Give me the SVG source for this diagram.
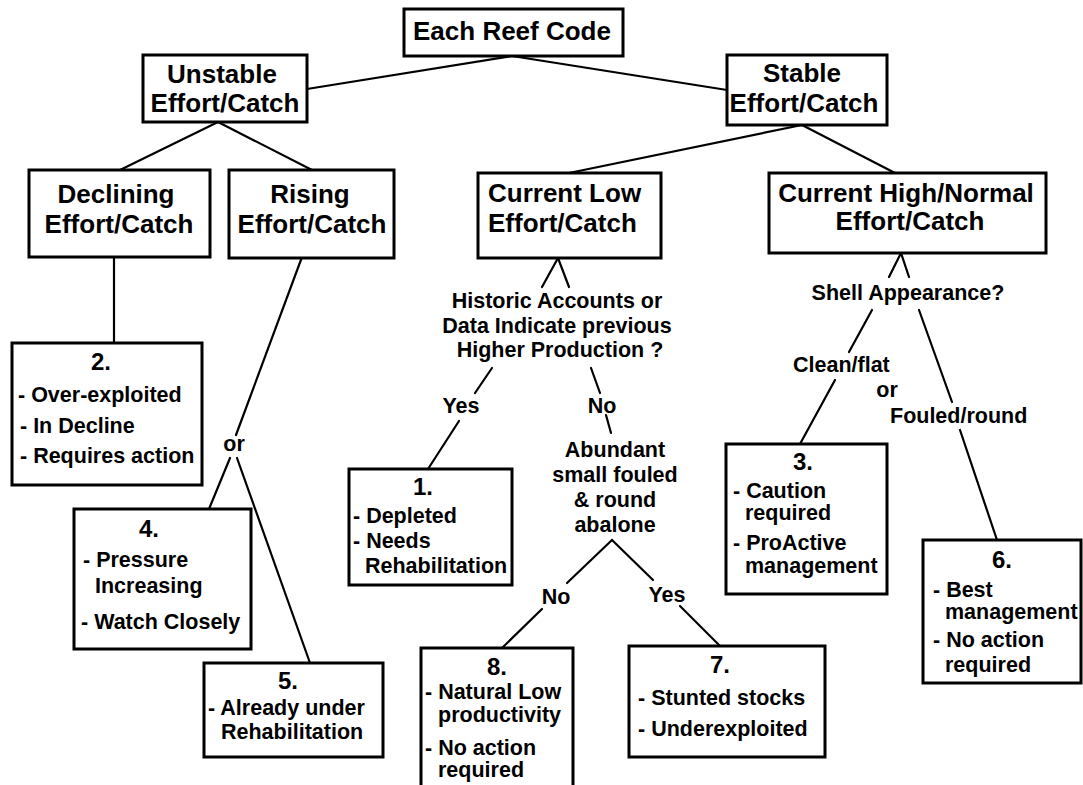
<svg xmlns="http://www.w3.org/2000/svg" width="1083" height="785" viewBox="0 0 1083 785">
<style>
.box{fill:#fff;stroke:#000;stroke-width:3}
.c line{stroke:#000;stroke-width:2.2;stroke-linecap:round}
text{font-family:"Liberation Sans",Arial,sans-serif;fill:#000}
.t{font-weight:bold;font-size:26px;text-anchor:middle}
.tl{font-weight:bold;font-size:26px}
.n{font-weight:bold;font-size:24px;text-anchor:middle}
.b{font-weight:bold;font-size:21.5px}
.bm{font-weight:bold;font-size:21.5px;text-anchor:middle}
</style>
<rect width="1083" height="785" fill="#fff"/>
<g class="c" id="connectors">
<line x1="512" y1="56" x2="307" y2="89"/>
<line x1="512" y1="56" x2="727" y2="90"/>
<line x1="218" y1="122" x2="120" y2="170"/>
<line x1="218" y1="122" x2="312" y2="170"/>
<line x1="802" y1="125" x2="569" y2="173"/>
<line x1="802" y1="125" x2="895" y2="173"/>
<line x1="114" y1="257" x2="114" y2="343"/>
<line x1="302" y1="257" x2="236" y2="435"/>
<line x1="230" y1="458" x2="209" y2="509"/>
<line x1="237" y1="458" x2="310" y2="663"/>
<line x1="558" y1="258" x2="542" y2="287"/>
<line x1="558" y1="258" x2="569" y2="287"/>
<line x1="492" y1="368" x2="475" y2="393"/>
<line x1="459" y1="421" x2="428" y2="469"/>
<line x1="591" y1="368" x2="600" y2="393"/>
<line x1="606" y1="415" x2="611" y2="433"/>
<line x1="612" y1="540" x2="567" y2="583"/>
<line x1="612" y1="540" x2="653" y2="580"/>
<line x1="542" y1="609" x2="502" y2="648"/>
<line x1="680" y1="606" x2="720" y2="646"/>
<line x1="901" y1="253" x2="889" y2="277"/>
<line x1="901" y1="253" x2="909" y2="277"/>
<line x1="872" y1="310" x2="849" y2="352"/>
<line x1="835" y1="380" x2="800" y2="444"/>
<line x1="919" y1="310" x2="952" y2="402"/>
<line x1="960" y1="430" x2="997" y2="540"/>
</g>
<g id="labels">
<text class="bm" x="557" y="308">Historic Accounts or</text>
<text class="bm" x="557" y="333">Data Indicate previous</text>
<text class="bm" x="560" y="357">Higher Production ?</text>
<text class="bm" x="461" y="413">Yes</text>
<text class="bm" x="602" y="413">No</text>
<text class="bm" x="615" y="457">Abundant</text>
<text class="bm" x="615" y="482">small fouled</text>
<text class="bm" x="615" y="507">&amp; round</text>
<text class="bm" x="615" y="532">abalone</text>
<text class="bm" x="556" y="604">No</text>
<text class="bm" x="667" y="602">Yes</text>
<text class="bm" x="234" y="451">or</text>
<text class="bm" x="908" y="300">Shell Appearance?</text>
<text class="b" x="793" y="372">Clean/flat</text>
<text class="bm" x="887" y="397">or</text>
<text class="b" x="890" y="423">Fouled/round</text>
</g>
<g id="each"><rect class="box" x="404" y="9" width="219" height="47"/><text class="t" x="512" y="40">Each Reef Code</text></g>
<g id="unstable"><rect class="box" x="143" y="55" width="164" height="67"/><text class="t" x="222" y="83">Unstable</text><text class="t" x="225" y="112">Effort/Catch</text></g>
<g id="stable"><rect class="box" x="727" y="55" width="160" height="70"/><text class="t" x="802" y="82">Stable</text><text class="t" x="804" y="112">Effort/Catch</text></g>
<g id="declining"><rect class="box" x="29" y="170" width="181" height="87"/><text class="t" x="116" y="203">Declining</text><text class="t" x="119" y="233">Effort/Catch</text></g>
<g id="rising"><rect class="box" x="229" y="170" width="165" height="88"/><text class="t" x="310" y="203">Rising</text><text class="t" x="312" y="233">Effort/Catch</text></g>
<g id="curlow"><rect class="box" x="478" y="173" width="183" height="85"/><text class="tl" x="488" y="202">Current Low</text><text class="tl" x="488" y="232">Effort/Catch</text></g>
<g id="curhigh"><rect class="box" x="769" y="173" width="277" height="80"/><text class="t" x="906" y="202">Current High/Normal</text><text class="t" x="910" y="230">Effort/Catch</text></g>
<g id="n2"><rect class="box" x="12" y="343" width="190" height="142"/><text class="n" x="101" y="370">2.</text><text class="b" x="18" y="402">- Over-exploited</text><text class="b" x="20" y="433">- In Decline</text><text class="b" x="20" y="463">- Requires action</text></g>
<g id="n4"><rect class="box" x="74" y="509" width="177" height="140"/><text class="n" x="149" y="537">4.</text><text class="b" x="83" y="567">- Pressure</text><text class="b" x="95" y="593">Increasing</text><text class="b" x="81" y="629">- Watch Closely</text></g>
<g id="n5"><rect class="box" x="204" y="663" width="179" height="94"/><text class="n" x="288" y="689">5.</text><text class="b" x="208" y="715">- Already under</text><text class="b" x="221" y="739">Rehabilitation</text></g>
<g id="n1"><rect class="box" x="349" y="469" width="163" height="116"/><text class="n" x="423" y="495">1.</text><text class="b" x="353" y="523">- Depleted</text><text class="b" x="353" y="548">- Needs</text><text class="b" x="365" y="573">Rehabilitation</text></g>
<g id="n8"><rect class="box" x="421" y="648" width="152" height="150"/><text class="n" x="497" y="675">8.</text><text class="b" x="425" y="699">- Natural Low</text><text class="b" x="438" y="722">productivity</text><text class="b" x="425" y="755">- No action</text><text class="b" x="438" y="777">required</text></g>
<g id="n7"><rect class="box" x="629" y="646" width="196" height="111"/><text class="n" x="720" y="673">7.</text><text class="b" x="638" y="705">- Stunted stocks</text><text class="b" x="638" y="736">- Underexploited</text></g>
<g id="n3"><rect class="box" x="726" y="444" width="161" height="150"/><text class="n" x="803" y="470">3.</text><text class="b" x="733" y="498">- Caution</text><text class="b" x="745" y="520">required</text><text class="b" x="733" y="550">- ProActive</text><text class="b" x="745" y="573">management</text></g>
<g id="n6"><rect class="box" x="923" y="540" width="158" height="143"/><text class="n" x="1002" y="568">6.</text><text class="b" x="933" y="597">- Best</text><text class="b" x="945" y="619">management</text><text class="b" x="933" y="647">- No action</text><text class="b" x="945" y="672">required</text></g>
</svg>
